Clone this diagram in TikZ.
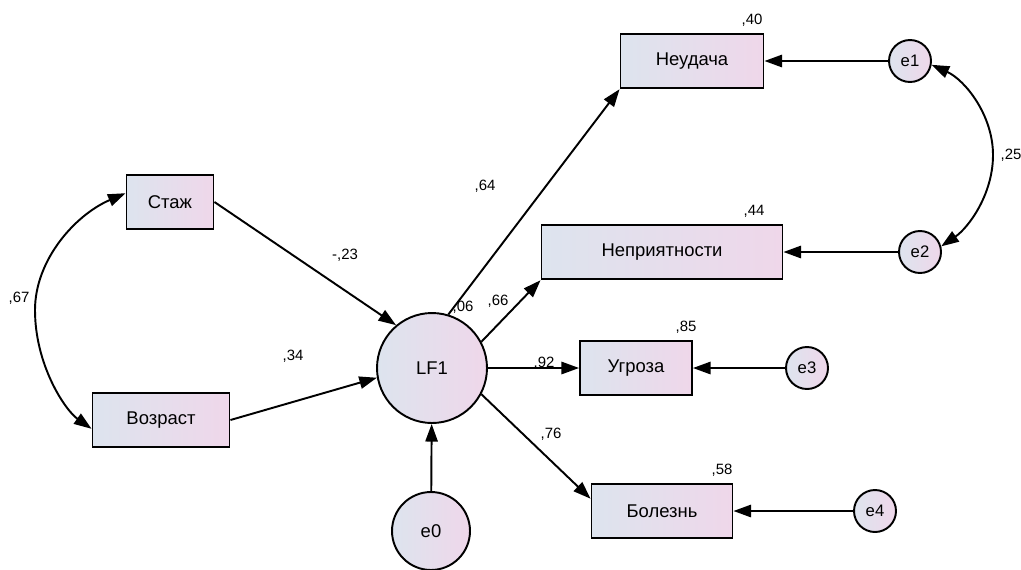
\documentclass[tikz,border=0pt]{standalone}
\usepackage{fontspec}
\setmainfont{Liberation Sans}
\usetikzlibrary{arrows.meta}
\definecolor{fillL}{HTML}{DDE4EE}
\definecolor{fillR}{HTML}{EFD7EA}

\begin{document}
\begin{tikzpicture}[x=0.02cm, y=-0.02cm,
  var/.style={draw, line width=1.1pt, left color=fillL, right color=fillR,
    font=\fontsize{10.5}{12}\selectfont, inner sep=0pt},
  obs/.style={var, rectangle, minimum height=1.09cm},
  lat/.style={var, circle},
  err/.style={lat, minimum size=0.84cm, font=\fontsize{9.5}{11}\selectfont},
  coef/.style={font=\fontsize{8.5}{10}\selectfont, inner sep=0pt},
  arr/.style={line width=1.1pt, -{Triangle[length=10pt, width=7pt]}},
  cov/.style={line width=1.1pt,
    {Triangle[length=10pt, width=7pt]}-{Triangle[length=10pt, width=7pt]}}]
  \useasboundingbox (0,0) rectangle (1021,569);
  \fill[white] (0,0) rectangle (1021,569);

  \node[obs, minimum width=2.86cm] (neud) at (692,61) {Неудача};
  \node[obs, minimum width=4.82cm] (nepr) at (662,252) {Неприятности};
  \node[obs, minimum width=1.74cm] (stazh) at (170,202) {Стаж};
  \node[obs, minimum width=2.74cm] (vozr) at (161,420) {Возраст};
  \node[obs, minimum width=2.24cm] (ugr) at (636,368) {Угроза};
  \node[obs, minimum width=2.82cm] (bol) at (662,511) {Болезнь};
  \node[lat, minimum size=2.2cm] (lf1) at (432,368) {LF1};
  \node[lat, minimum size=1.56cm] (e0) at (431,531) {e0};
  \node[err] (e1) at (910,61) {e1};
  \node[err] (e2) at (920,252) {e2};
  \node[err] (e3) at (807,368) {e3};
  \node[err] (e4) at (875,511) {e4};

  \draw[arr] (stazh.east) -- (lf1.130);
  \draw[arr] (vozr.east) -- (lf1.190);
  \draw[arr] (e0) -- (lf1);
  \draw[arr] (lf1.73) -- (neud.south west);
  \draw[arr] (lf1.28) -- (nepr.south west);
  \draw[arr] (lf1) -- (ugr);
  \draw[arr] (lf1.-28) -- ([yshift=7pt]bol.west);
  \draw[arr] (e1) -- (neud);
  \draw[arr] (e2) -- (nepr);
  \draw[arr] (e3) -- (ugr);
  \draw[arr] (e4) -- (bol);
  \draw[cov] ([yshift=5pt]stazh.west) .. controls (75,215) and (35,260) .. (35,310)
    .. controls (35,365) and (65,410) .. ([yshift=-5pt]vozr.west);
  \draw[cov] (e1.-10) .. controls (965,80) and (993,115) .. (993,155)
    .. controls (993,195) and (968,228) .. (e2.15);

  \node[coef] (c40) at (752,20) {,40};
  \node[coef] (c44) at (754,211) {,44};
  \node[coef] (c85) at (686,327) {,85};
  \node[coef] (c58) at (722,470) {,58};
  \node[coef] (c25) at (1011,155) {,25};
  \node[coef] (c67) at (19,298) {,67};
  \node[coef] (c23) at (345,255) {-,23};
  \node[coef] (c34) at (293,356) {,34};
  \node[coef] (c64) at (485,186) {,64};
  \node[coef] (c06) at (463,307) {,06};
  \node[coef] (c66) at (498,301) {,66};
  \node[coef] (c92) at (544,363) {,92};
  \node[coef] (c76) at (551,434) {,76};
\end{tikzpicture}
\end{document}
